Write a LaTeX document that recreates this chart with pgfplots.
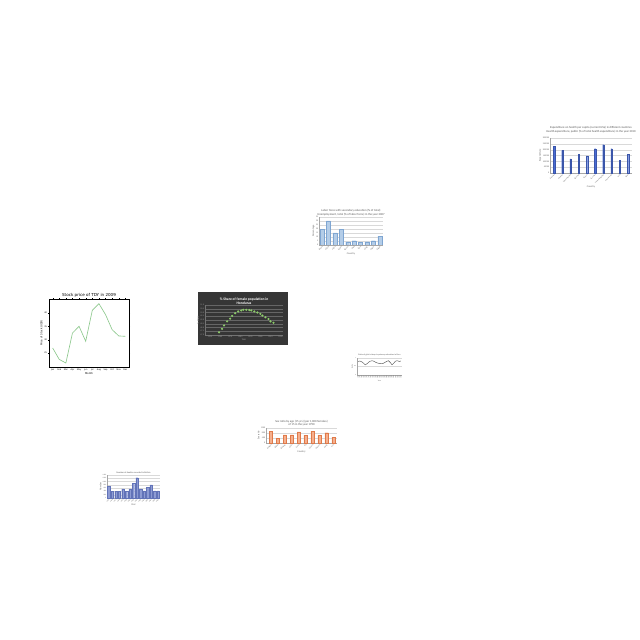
\documentclass[border=0pt]{standalone}
\usepackage{pgfplots}
\pgfplotsset{compat=1.18}
\usepackage{fontspec}
\setmainfont{Carlito}
\newfontfamily\dejavu{DejaVu Sans}
\definecolor{barA}{HTML}{4A6CD4}
\definecolor{barB}{HTML}{B4CDE8}
\definecolor{barBd}{HTML}{7FA6D2}
\definecolor{barF}{HTML}{F5B08E}
\definecolor{barFd}{HTML}{E07A4A}
\definecolor{barG}{HTML}{8D9BD3}
\definecolor{barGd}{HTML}{6273B8}
\definecolor{stockg}{HTML}{8CC88C}
\definecolor{darkbg}{HTML}{363636}
\definecolor{dotg}{HTML}{8CCB6A}
\pgfplotsset{
  mini/.style={
    scale only axis,
    /pgf/number format/assume math mode=true,
    /pgf/number format/1000 sep={},
    /pgf/number format/fixed,
    scaled ticks=false,
    axis x line*=bottom, axis y line*=left,
    axis line style={black!35, line width=0.15pt},
    major tick length=0pt,
    ymajorgrids, grid style={black!15, line width=0.12pt},
    tick label style={font=\fontsize{1.5}{1.8}\selectfont, text=black!60, inner sep=0.4pt},
    label style={font=\fontsize{1.8}{2}\selectfont, text=black!60, inner sep=0.4pt},
    title style={font=\fontsize{2.1}{2.5}\selectfont, text=black!65, align=center, inner sep=0.5pt},
  },
  rotx/.style={xticklabel style={rotate=45, anchor=north east}},
}
\begin{document}
\begin{tikzpicture}
\fill[white] (0,0) rectangle (16cm,-16cm);

% ---------- Chart A (top right, blue bars)
\begin{axis}[mini, rotx, at={(13.75cm,-3.45cm)}, anchor=north west,
  width=2.05cm, height=0.875cm,
  ymin=0, ymax=300000, ytick={0,50000,100000,150000,200000,250000,300000},
  xmin=-0.5, xmax=9.5, xtick=data,
  xticklabel style={font=\fontsize{1.3}{1.5}\selectfont},
  xticklabels={Australia,Belgium,Czech Republic,Denmark,Finland,Germany,United Kingdom,Netherlands,Italy,Spain},
  ylabel={Expenditure}, xlabel={Country},
  title style={yshift=-2.8pt},
  title={Expenditure on health per capita (current US\$) in different countries\\Health expenditure, public (\% of total health expenditure) in the year 2010}]
\addplot[ybar, bar width=0.035cm, fill=barA, draw=barA!80!black, line width=0.1pt] coordinates {
(0,228500) (1,193500) (2,121500) (3,162000) (4,147500) (5,208000) (6,243000) (7,208000) (8,110000) (9,159000)};
\end{axis}

% ---------- Chart B (middle, light blue bars)
\begin{axis}[mini, rotx, at={(7.975cm,-5.425cm)}, anchor=north west,
  width=1.6cm, height=0.7cm,
  ymin=0, ymax=35, ytick={0,5,...,35},
  xmin=-0.45, xmax=9.5, xtick=data,
  xticklabels={Brazil,China,India,Japan,Kenya,Mali,Peru,Chad,Niger,Egypt},
  ylabel={Percentage}, xlabel={Country},
  title style={yshift=-5.7pt},
  title={Labor force with secondary education (\% of total)\\Unemployment, total (\% of labor force) in the year 2007}]
\addplot[ybar, bar width=0.1cm, fill=barB, draw=barBd, line width=0.15pt] coordinates {
(0,19.8) (1,30) (2,15.2) (3,19.8) (4,4.1) (5,5.4) (6,3.3) (7,4.1) (8,5.4) (9,11.1)};
\end{axis}

% ---------- Chart C (stock price, matplotlib style)
\begin{axis}[scale only axis, at={(1.225cm,-7.475cm)}, anchor=north west,
  width=2.0cm, height=1.7cm,
  xmin=-0.55, xmax=11.55, ymin=19.75, ymax=45.25,
  xtick={0,...,11}, xticklabels={Jan,Feb,Mar,Apr,May,Jun,Jul,Aug,Sep,Oct,Nov,Dec},
  ytick={25,30,35,40},
  axis line style={black, line width=0.2pt},
  major tick length=0.025cm, tick align=outside, tick style={black, line width=0.15pt},
  tick label style={font=\dejavu\fontsize{1.5}{1.8}\selectfont, inner sep=0.5pt},
  /pgf/number format/assume math mode=true,
  label style={font=\dejavu\fontsize{1.8}{2}\selectfont, inner sep=0.5pt},
  title style={font=\dejavu\fontsize{2.9}{3.3}\selectfont, inner sep=0.6pt, yshift=-5.9pt},
  xlabel={Month}, ylabel={Price of Stock (USD)},
  title={Stock price of TDY in 2009}]
\addplot[stockg, line width=0.45pt] coordinates {
(0,26.9) (1,22.6) (2,21.25) (3,32.5) (4,35.0) (5,29.4) (6,41.0) (7,43.5) (8,39.4) (9,33.75) (10,31.4) (11,31.25)};
\end{axis}

% ---------- Chart D (dark, scatter)
\fill[darkbg] (4.95cm,-7.3cm) rectangle (7.2cm,-8.625cm);
\begin{axis}[mini, at={(5.125cm,-7.625cm)}, anchor=north west,
  width=1.95cm, height=0.75cm,
  axis line style={black!55, line width=0.15pt},
  grid style={black!60, line width=0.12pt},
  xmin=1945.1, xmax=2022.4, ymin=47, ymax=51,
  xtick={1950,1960,...,2020}, ytick={47,47.5,...,51},
  yticklabel style={/pgf/number format/precision=1, /pgf/number format/fixed zerofill},
  tick label style={text=black!40},
  label style={text=black!40},
  title style={font=\bfseries\fontsize{2.6}{3}\selectfont, text=white, yshift=-6.4pt},
  xlabel={Year}, ylabel={\% Share},
  title={\% Share of female population in\\Honduras}]
\addplot[only marks, mark=*, mark size=0.55pt, color=dotg] coordinates {
(1959,47.36) (1962,47.82) (1964,48.27) (1967,48.82) (1970,49.18) (1972,49.55) (1975,49.91) (1978,50.14) (1981,50.27) (1983,50.36) (1986,50.36) (1989,50.32) (1991,50.27) (1994,50.14) (1997,50.0) (2000,49.82) (2002,49.59) (2005,49.36) (2008,49.14) (2010,48.82) (2013,48.64)};
\end{axis}

% ---------- Chart E (small wavy line)
\begin{axis}[mini, at={(8.925cm,-8.95cm)}, anchor=north west,
  width=1.125cm, height=0.425cm,
  xmin=-0.6, xmax=24.6, ymin=0, ymax=1, ytick={0,0.5,1},
  xtick={0,...,24},
  xticklabels={1990,1991,1992,1993,1994,1995,1996,1997,1998,1999,2000,2001,2002,2003,2004,2005,2006,2007,2008,2009,2010,2011,2012,2013,2014},
  xticklabel style={rotate=90, anchor=east, font=\fontsize{1}{1.2}\selectfont},
  tick label style={font=\fontsize{1.1}{1.3}\selectfont},
  label style={font=\fontsize{1.3}{1.5}\selectfont},
  title style={font=\fontsize{1.5}{1.8}\selectfont, yshift=-5pt},
  xlabel={Year}, ylabel={Ratio},
  title={Ratio of girls to boys in primary education in Peru}]
\addplot[black!70, line width=0.3pt] coordinates {
(0,0.80) (1,0.82) (2,0.78) (3,0.70) (4,0.60) (5,0.66) (6,0.76) (7,0.82) (8,0.84) (9,0.80) (10,0.74) (11,0.70) (12,0.68) (13,0.66) (14,0.68) (15,0.74) (16,0.80) (17,0.84) (18,0.74) (19,0.60) (20,0.70) (21,0.82) (22,0.84) (23,0.80) (24,0.82)};
\end{axis}

% ---------- Chart F (orange bars)
\begin{axis}[mini, rotx, at={(6.65cm,-10.7cm)}, anchor=north west,
  width=1.775cm, height=0.375cm,
  ymin=0, ymax=1200, ytick={0,400,800,1200},
  xmin=-0.7, xmax=9.5, xtick=data,
  xticklabels={Angola,Belize,Bhutan,Chile,Cuba,Fiji,Ghana,Greece,Haiti,Iran},
  ylabel={Sex ratio}, xlabel={Country},
  title style={yshift=-5.3pt},
  title={Sex ratio by age (15 yrs) (per 1,000 females)\\of 15 in the year 1990}]
\addplot[ybar, bar width=0.085cm, fill=barF, draw=barFd, line width=0.15pt] coordinates {
(0,950) (1,375) (2,650) (3,650) (4,900) (5,625) (6,950) (7,625) (8,825) (9,450)};
\end{axis}

% ---------- Chart G (bottom-left bars)
\begin{axis}[mini, rotx, at={(2.675cm,-11.875cm)}, anchor=north west,
  width=1.325cm, height=0.575cm,
  ymin=0, ymax=1400, ytick={0,200,...,1400},
  xmin=-0.5, xmax=14.5, xtick=data,
  xticklabels={1995,1996,1997,1998,1999,2000,2001,2002,2003,2004,2005,2006,2007,2008,2009},
  tick label style={font=\fontsize{1.2}{1.4}\selectfont},
  title style={font=\fontsize{1.6}{1.9}\selectfont, yshift=-5.7pt},
  ylabel={Number}, xlabel={Year},
  title={Number of deaths recorded in Bolivia}]
\addplot[ybar, bar width=0.06cm, fill=barG, draw=barGd, line width=0.15pt] coordinates {
(0,700) (1,400) (2,400) (3,400) (4,560) (5,400) (6,560) (7,900) (8,1240) (9,560) (10,440) (11,640) (12,800) (13,440) (14,440)};
\end{axis}
\end{tikzpicture}
\end{document}
